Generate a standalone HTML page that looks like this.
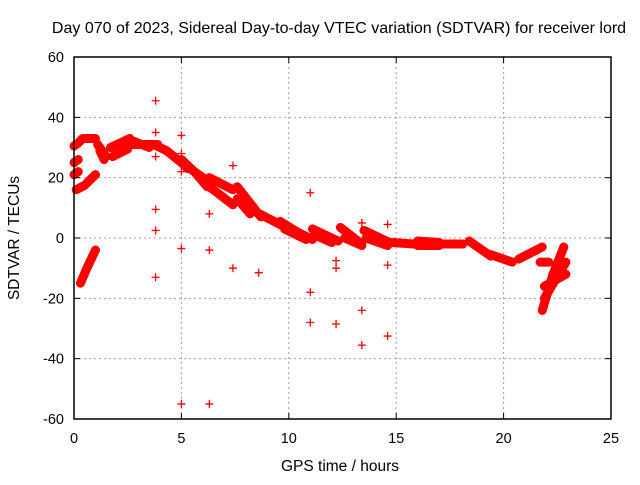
<!DOCTYPE html>
<html><head><meta charset="utf-8"><style>
body{margin:0;background:#fff;font-family:"Liberation Sans",sans-serif}
svg text{font-family:"Liberation Sans",sans-serif;fill:#000}
</style></head><body>
<svg id="c" width="640" height="480" xmlns="http://www.w3.org/2000/svg">
<rect width="640" height="480" fill="#fff"/>
<text x="339" y="33" font-size="16" text-anchor="middle">Day 070 of 2023, Sidereal Day-to-day VTEC variation (SDTVAR) for receiver lord</text>
<g id="grid"></g><g id="tracks"></g><g id="outliers"></g><g id="axes"></g>
<text x="340" y="471" font-size="15.5" text-anchor="middle">GPS time / hours</text>
<text transform="translate(19,238) rotate(-90)" font-size="15.5" text-anchor="middle">SDTVAR / TECUs</text>
</svg>
<script>
const xTicks=[0,5,10,15,20,25];
const yTicks=[-60,-40,-20,0,20,40,60];
const tracks=[
[[0,30.5],[0.2,31.5],[0.4,33],[1.0,33]],
[[0,25],[0.2,26]],
[[0,21],[0.2,22]],
[[0.1,16],[0.5,17.5],[1.0,21]],
[[0.3,-15],[0.6,-10],[1.0,-4]],
[[1.1,31],[1.5,27]],
[[1.2,29],[1.4,26]],
[[1.7,30],[2.6,33]],
[[1.8,27],[2.5,29.5]],
[[2.7,31],[3.9,31]],
[[2.8,32],[3.5,30]],
[[3.7,31],[4.3,29],[5.0,25],[5.3,23]],
[[5.0,26],[5.6,22],[6.2,17]],
[[5.2,24],[6.0,20]],
[[6.3,20],[7.4,16]],
[[6.3,17],[7.4,11]],
[[7.6,17],[8.7,7]],
[[7.6,13],[8.2,8]],
[[8.5,8.5],[10.1,2.6]],
[[9.6,5.5],[10.4,2],[11.1,-0.5]],
[[9.8,3],[10.8,-0.5]],
[[11.1,3],[12.3,-1]],
[[11.2,1],[12.0,-1.5]],
[[12.4,3.5],[13.4,-2]],
[[12.6,0],[13.4,-2.5]],
[[13.5,2.5],[14.7,-1.5]],
[[13.6,0],[14.6,-2.5]],
[[14.8,-1.5],[15.8,-2]],
[[15.8,-2],[16.0,-1.5]],
[[16.0,-1],[17.0,-1.5]],
[[16.0,-2.5],[17.0,-2.5]],
[[17.0,-2],[18.1,-2]],
[[18.4,-1],[19.4,-6]],
[[19.4,-5.5],[20.4,-8]],
[[20.7,-7],[21.8,-3]],
[[21.8,-24],[22.3,-12],[22.8,-3]],
[[21.9,-20],[22.9,-8]],
[[21.9,-16],[22.9,-12]],
[[21.7,-8],[22.1,-8]]
];
const outliers=[[3.8,45.5],[3.8,35],[3.8,27],[3.8,9.5],[3.8,2.5],[3.8,-13],[5.0,34],[5.0,28],[5.0,22],[5.0,-3.5],[5.0,-55],[6.3,8],[6.3,-4],[6.3,-55],[7.4,24],[7.4,-10],[8.6,-11.5],[11.0,15],[11.0,-18],[11.0,-28],[12.2,-7.5],[12.2,-10],[12.2,-28.5],[13.4,5],[13.4,-24],[13.4,-35.5],[14.6,4.5],[14.6,-9],[14.6,-32.5]];
const X0=74,X1=611,Y0=419,Y1=57;
const sx=h=>X0+(h-0)/25*(X1-X0);
const sy=v=>Y0-(v+60)/120*(Y0-Y1);
const NS="http://www.w3.org/2000/svg";
function mk(tag,attrs,parent){const e=document.createElementNS(NS,tag);for(const k in attrs)e.setAttribute(k,attrs[k]);parent.appendChild(e);return e;}
const grid=document.getElementById('grid'),axes=document.getElementById('axes'),tg=document.getElementById('tracks'),og=document.getElementById('outliers');
xTicks.forEach(t=>{const x=sx(t);
 if(t>0&&t<25){const l=mk('line',{x1:x,x2:x,y1:Y1,y2:Y0,stroke:'#a0a0a0','stroke-dasharray':'2,3'},grid);}
 const tk=mk('line',{x1:x,x2:x,y1:Y0,y2:Y0-6,stroke:'#000'},axes);
 const tk2=mk('line',{x1:x,x2:x,y1:Y1,y2:Y1+6,stroke:'#000'},axes);
 const tx=mk('text',{x:x,y:Y0+24,'font-size':14.5,'text-anchor':'middle'},axes);tx.textContent=t;});
yTicks.forEach(t=>{const y=sy(t);
 if(t>-60&&t<60){const l=mk('line',{x1:X0,x2:X1,y1:y,y2:y,stroke:'#a0a0a0','stroke-dasharray':'2,3'},grid);}
 const tk=mk('line',{x1:X0,x2:X0+6,y1:y,y2:y,stroke:'#000'},axes);
 const tk2=mk('line',{x1:X1,x2:X1-6,y1:y,y2:y,stroke:'#000'},axes);
 const tx=mk('text',{x:X0-10,y:y+5,'font-size':14.5,'text-anchor':'end'},axes);tx.textContent=t;});
const fr=mk('rect',{x:X0,y:Y1,width:X1-X0,height:Y0-Y1,fill:'none',stroke:'#000','stroke-width':1.5},axes);


tracks.forEach(tr=>{const p=mk('polyline',{points:tr.map(d=>sx(d[0])+','+sy(d[1])).join(' '),fill:'none',stroke:'#f00','stroke-width':9,'stroke-linejoin':'round','stroke-linecap':'round'},tg);
 
 });
outliers.forEach(d=>{const x=sx(d[0]),y=sy(d[1]);const p=mk('path',{d:`M${x-4},${y}H${x+4}M${x},${y-4}V${y+4}`,stroke:'#f00','stroke-width':1.3},og);
 
 });
</script>
</body></html>
